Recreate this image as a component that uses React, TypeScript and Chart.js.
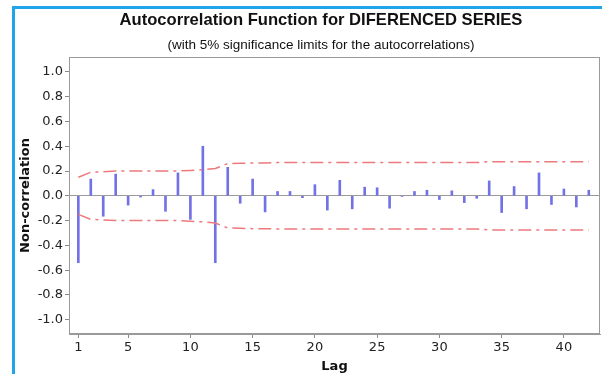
import React, { useEffect, useRef } from "react";
import { Chart, registerables } from "chart.js";

Chart.register(...registerables);

const lags = [
  1, 2, 3, 4, 5, 6, 7, 8, 9, 10, 11, 12, 13, 14, 15, 16, 17, 18, 19, 20, 21,
  22, 23, 24, 25, 26, 27, 28, 29, 30, 31, 32, 33, 34, 35, 36, 37, 38, 39, 40, 41, 42,
];
const acfValues = [
  -0.54, 0.135, -0.165, 0.175, -0.075, -0.01, 0.05, -0.125, 0.185, -0.19, 0.4,
  -0.54, 0.23, -0.06, 0.135, -0.13, 0.035, 0.035, -0.015, 0.09, -0.115, 0.125,
  -0.105, 0.07, 0.065, -0.1, -0.005, 0.035, 0.045, -0.03, 0.04, -0.055, -0.02,
  0.12, -0.135, 0.075, -0.105, 0.185, -0.07, 0.055, -0.09, 0.045,
];
const limitValues = [
  0.15, 0.19, 0.195, 0.2, 0.2, 0.2, 0.2, 0.2, 0.2, 0.205, 0.21, 0.22, 0.26,
  0.262, 0.265, 0.265, 0.268, 0.268, 0.268, 0.268, 0.268, 0.268, 0.268, 0.268,
  0.268, 0.268, 0.268, 0.268, 0.268, 0.268, 0.268, 0.268, 0.268, 0.275, 0.275,
  0.275, 0.275, 0.275, 0.275, 0.275, 0.275, 0.275,
];
const yTickValues = [-1.0, -0.8, -0.6, -0.4, -0.2, 0.0, 0.2, 0.4, 0.6, 0.8, 1.0];
const xTickValues = [1, 5, 10, 15, 20, 25, 30, 35, 40];

const titleText = "Autocorrelation Function for DIFERENCED SERIES";
const subtitleText = "(with 5% significance limits for the autocorrelations)";
const xTitle = "Lag";
const yTitle = "Non-correlation";

const frameAndTitles = {
  id: "frameAndTitles",
  afterDraw(chart: any) {
    const { ctx, chartArea: a } = chart;
    ctx.save();
    ctx.strokeStyle = "#9a9a9a";
    ctx.lineWidth = 1;
    ctx.strokeRect(a.left + 0.5, a.top + 0.5, a.right - a.left - 1, a.bottom - a.top - 1);
    ctx.fillStyle = "#111";
    ctx.textAlign = "center";
    ctx.textBaseline = "middle";
    ctx.font = "bold 16.6px 'Liberation Sans'";
    ctx.fillText(titleText, 321, 20);
    ctx.font = "13.5px 'Liberation Sans'";
    ctx.fillText(subtitleText, 321, 45);
    ctx.restore();
  },
};

export default function App() {
  const canvasRef = useRef<HTMLCanvasElement | null>(null);

  useEffect(() => {
    const canvas = canvasRef.current;
    if (!canvas) return;
    const tickFont = { family: "'DejaVu Sans'", size: 13 };
    const chart = new Chart(canvas, {
      type: "bar",
      data: {
        datasets: [
          {
            type: "line",
            data: lags.map((l, i) => ({ x: l, y: limitValues[i] })),
            borderColor: "#ec7a7d",
            borderWidth: 1.5,
            borderDash: [13, 5, 3, 5],
            pointRadius: 0,
            fill: false,
            tension: 0,
          } as any,
          {
            type: "line",
            data: lags.map((l, i) => ({ x: l, y: -limitValues[i] })),
            borderColor: "#ec7a7d",
            borderWidth: 1.5,
            borderDash: [13, 5, 3, 5],
            pointRadius: 0,
            fill: false,
            tension: 0,
          } as any,
          {
            type: "bar",
            data: lags.map((l, i) => ({ x: l, y: acfValues[i] })),
            backgroundColor: "#7272e4",
            barThickness: 2,
          } as any,
        ],
      },
      options: {
        animation: false,
        responsive: false,
        layout: { padding: { left: 14, right: 2, top: 57, bottom: 0 } },
        plugins: {
          legend: { display: false },
          tooltip: { enabled: false },
          title: { display: false },
        },
        scales: {
          x: {
            type: "linear",
            min: 0.25,
            max: 42.9,
            offset: false,
            afterBuildTicks: (s: any) => {
              s.ticks = xTickValues.map((v) => ({ value: v }));
            },
            afterFit: (s: any) => {
              s.height = 40;
            },
            ticks: {
              font: tickFont,
              color: "#222",
              autoSkip: false,
              maxRotation: 0,
              padding: 2,
            },
            grid: {
              display: true,
              offset: false,
              drawOnChartArea: false,
              tickLength: 4,
              color: "#8a8a8a",
            },
            border: { display: true, color: "#9a9a9a" },
            title: {
              display: true,
              text: xTitle,
              color: "#111",
              font: { family: "'DejaVu Sans'", size: 13, weight: "bold" },
              padding: { top: 0, bottom: 0 },
            },
          },
          y: {
            type: "linear",
            min: -1.115,
            max: 1.12,
            afterBuildTicks: (s: any) => {
              s.ticks = yTickValues.map((v) => ({ value: v }));
            },
            afterFit: (s: any) => {
              s.width = 55;
            },
            ticks: {
              font: tickFont,
              color: "#222",
              padding: 2,
              callback: (v: any) => Number(v).toFixed(1),
            },
            grid: {
              display: true,
              drawOnChartArea: true,
              tickLength: 4,
              tickColor: "#8a8a8a",
              color: (c: any) =>
                c.tick && Math.abs(c.tick.value) < 1e-9 ? "#9a9a9a" : "rgba(0,0,0,0)",
            },
            border: { display: true, color: "#9a9a9a" },
            title: {
              display: true,
              text: yTitle,
              color: "#111",
              font: { family: "'DejaVu Sans'", size: 13, weight: "bold" },
              padding: { top: 4, bottom: 0 },
            },
          },
        },
      } as any,
      plugins: [frameAndTitles],
    });
    return () => chart.destroy();
  }, []);

  return (
    <div style={{ position: "absolute", left: 0, top: 0, width: 602, height: 374, overflow: "hidden", background: "#fff" }}>
      <div
        style={{
          position: "absolute",
          left: 12,
          top: 6,
          width: 620,
          height: 400,
          borderLeft: "3px solid #1fa5e8",
          borderTop: "3px solid #1fa5e8",
          boxSizing: "border-box",
        }}
      />
      <canvas
        ref={canvasRef}
        width={602}
        height={374}
        style={{ position: "absolute", left: 0, top: 0, width: 602, height: 374, display: "block" }}
      />
    </div>
  );
}
